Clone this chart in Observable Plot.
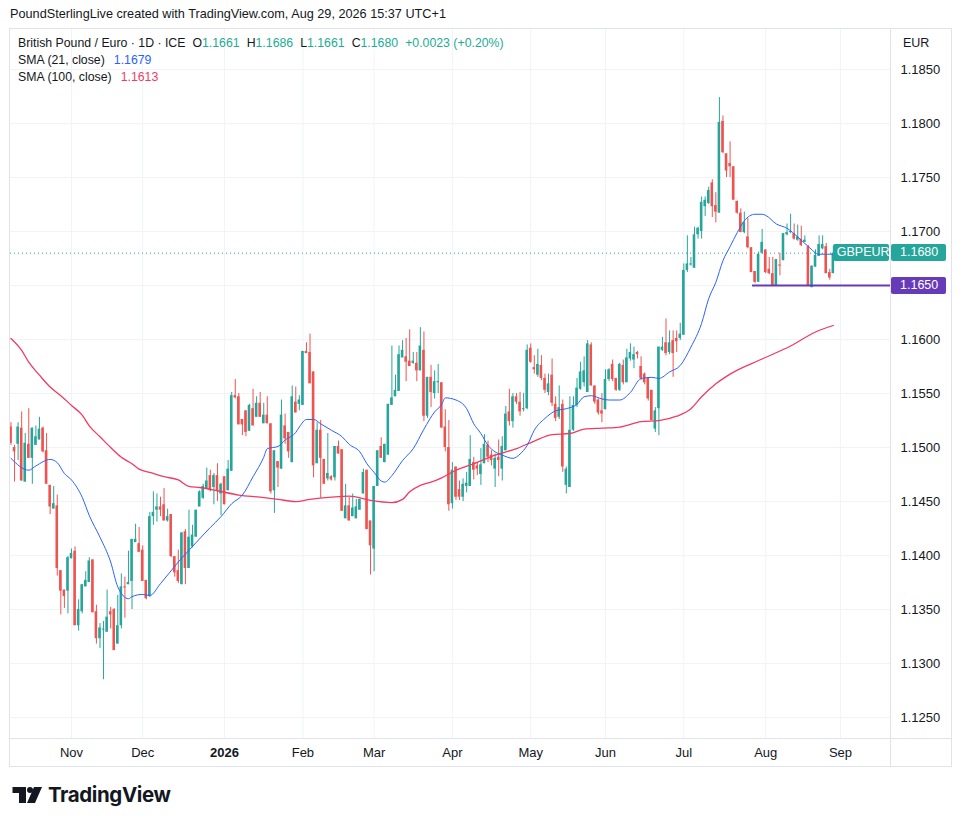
<!DOCTYPE html>
<html><head><meta charset="utf-8">
<script src="https://cdn.jsdelivr.net/npm/d3@7"></script>
<script src="https://cdn.jsdelivr.net/npm/@observablehq/plot@0.6"></script>
<style>
body{margin:0;background:#fff;font-family:"Liberation Sans",Arial,sans-serif;color:#131722;}
#wrap{position:relative;width:960px;height:826px;overflow:hidden;}
.abs{position:absolute;}
#hdr{left:10px;top:7px;font-size:12.7px;white-space:nowrap;}
#chart{left:0;top:28px;}
#legend{left:18px;top:35px;font-size:12.3px;line-height:17px;white-space:nowrap;}
#legend .v{color:#22ab94;}
#legend .g{margin-left:7px;}
.box{position:absolute;height:17px;line-height:17px;font-size:12.5px;color:#fff;border-radius:2px;white-space:nowrap;}
#logo{left:12px;top:780px;}
</style></head><body>
<div id="wrap">
  <div id="hdr" class="abs">PoundSterlingLive created with TradingView.com, Aug 29, 2026 15:37 UTC+1</div>
  <div id="chart" class="abs"></div>
  <div id="legend" class="abs">
    <div>British Pound / Euro · 1D · ICE<span class="g">O</span><span class="v">1.1661</span><span class="g">H</span><span class="v">1.1686</span><span class="g">L</span><span class="v">1.1661</span><span class="g">C</span><span class="v">1.1680</span><span class="v g">+0.0023 (+0.20%)</span></div>
    <div>SMA (21, close)<span style="color:#2962ff;margin-left:9px">1.1679</span></div>
    <div>SMA (100, close)<span style="color:#f23a62;margin-left:9px">1.1613</span></div>
  </div>
  <div class="abs" style="left:903px;top:36px;font-size:12.5px;">EUR</div>
  <div class="abs" style="left:9px;top:28px;width:941px;height:737px;border:1px solid #e0e3eb;pointer-events:none;"></div>
  <div class="abs" style="left:890px;top:28px;width:1px;height:738px;background:#e0e3eb;"></div>
  <div class="abs" style="left:9px;top:738px;width:942px;height:1px;background:#e0e3eb;"></div>
  <div id="logo" class="abs">
    <svg width="200" height="34" viewBox="0 0 200 34">
      <path d="M0.5 7 H14 V23 H7 V13 H0.5 Z" fill="#131722"/>
      <circle cx="18" cy="10" r="3" fill="#131722"/>
      <path d="M22 7 H30 L23 23 H15 Z" fill="#131722"/>
      <text x="36" y="22" font-family="Inter, 'Liberation Sans', Arial, sans-serif" font-weight="700" font-size="20.5" letter-spacing="-0.4" fill="#131722">TradingView</text>
    </svg>
  </div>
</div>
<script>
// ---- Data (GBP/EUR daily candles) ----
const opens = [1.1519,1.1500,1.1503,1.1518,1.1468,1.1503,1.1490,1.1502,1.1507,1.1518,
1.1497,1.1465,1.1443,1.1446,1.1386,1.1368,1.1367,1.1397,1.1404,1.1335,
1.1348,1.1371,1.1375,1.1396,1.1348,1.1323,1.1331,1.1329,1.1348,1.1350,
1.1318,1.1335,1.1371,1.1373,1.1376,1.1412,1.1411,1.1405,1.1377,1.1362,
1.1436,1.1442,1.1445,1.1447,1.1432,1.1438,1.1399,1.1386,1.1373,1.1422,
1.1388,1.1408,1.1417,1.1445,1.1453,1.1462,1.1474,1.1463,1.1474,1.1457,
1.1473,1.1460,1.1478,1.1548,1.1547,1.1526,1.1534,1.1515,1.1536,1.1528,
1.1541,1.1522,1.1530,1.1522,1.1460,1.1487,1.1480,1.1520,1.1514,1.1486,
1.1542,1.1540,1.1539,1.1589,1.1588,1.1570,1.1485,1.1516,1.1489,1.1471,
1.1473,1.1472,1.1501,1.1498,1.1434,1.1446,1.1436,1.1434,1.1442,1.1457,
1.1479,1.1432,1.1406,1.1464,1.1501,1.1486,1.1493,1.1539,1.1547,1.1552,
1.1583,1.1584,1.1580,1.1578,1.1578,1.1571,1.1590,1.1529,1.1565,1.1550,
1.1560,1.1560,1.1519,1.1500,1.1448,1.1482,1.1461,1.1454,1.1464,1.1464,
1.1486,1.1483,1.1475,1.1485,1.1502,1.1493,1.1480,1.1491,1.1480,1.1497,
1.1533,1.1524,1.1547,1.1542,1.1535,1.1536,1.1592,1.1574,1.1567,1.1576,
1.1564,1.1551,1.1567,1.1540,1.1528,1.1540,1.1465,1.1463,1.1516,1.1539,
1.1554,1.1560,1.1551,1.1595,1.1557,1.1544,1.1534,1.1535,1.1563,1.1577,
1.1564,1.1553,1.1576,1.1560,1.1582,1.1581,1.1588,1.1575,1.1568,1.1564,
1.1553,1.1517,1.1536,1.1590,1.1597,1.1588,1.1599,1.1601,1.1601,1.1604,
1.1664,1.1669,1.1666,1.1697,1.1700,1.1723,1.1726,1.1745,1.1724,1.1717,
1.1802,1.1772,1.1763,1.1760,1.1728,1.1717,1.1699,1.1695,1.1685,1.1663,
1.1653,1.1680,1.1683,1.1665,1.1661,1.1650,1.1669,1.1673,1.1697,1.1699,
1.1698,1.1692,1.1693,1.1690,1.1686,1.1648,1.1667,1.1677,1.1684,1.1686,
1.1662,1.1661];
const highs = [1.1523,1.1502,1.1523,1.1533,1.1513,1.1536,1.1518,1.1520,1.1528,1.1519,
1.1513,1.1465,1.1464,1.1456,1.1386,1.1368,1.1399,1.1406,1.1408,1.1359,
1.1373,1.1385,1.1398,1.1396,1.1354,1.1337,1.1339,1.1368,1.1352,1.1351,
1.1363,1.1383,1.1380,1.1404,1.1415,1.1429,1.1426,1.1409,1.1377,1.1440,
1.1459,1.1457,1.1454,1.1462,1.1443,1.1438,1.1399,1.1405,1.1421,1.1424,
1.1442,1.1428,1.1442,1.1460,1.1466,1.1481,1.1479,1.1476,1.1485,1.1467,
1.1473,1.1488,1.1551,1.1563,1.1550,1.1526,1.1534,1.1540,1.1554,1.1547,
1.1551,1.1541,1.1547,1.1522,1.1497,1.1487,1.1544,1.1531,1.1514,1.1557,
1.1556,1.1548,1.1589,1.1597,1.1605,1.1570,1.1523,1.1525,1.1489,1.1513,
1.1474,1.1501,1.1506,1.1498,1.1466,1.1454,1.1457,1.1452,1.1452,1.1480,
1.1479,1.1432,1.1464,1.1497,1.1509,1.1503,1.1540,1.1594,1.1567,1.1594,
1.1599,1.1601,1.1609,1.1588,1.1588,1.1611,1.1607,1.1565,1.1576,1.1571,
1.1577,1.1560,1.1535,1.1525,1.1486,1.1482,1.1469,1.1471,1.1477,1.1511,
1.1491,1.1486,1.1499,1.1512,1.1506,1.1497,1.1494,1.1507,1.1510,1.1538,
1.1554,1.1550,1.1550,1.1551,1.1550,1.1595,1.1596,1.1585,1.1591,1.1585,
1.1568,1.1568,1.1582,1.1547,1.1557,1.1544,1.1482,1.1547,1.1547,1.1564,
1.1579,1.1584,1.1599,1.1597,1.1557,1.1545,1.1550,1.1572,1.1573,1.1581,
1.1564,1.1578,1.1581,1.1591,1.1596,1.1593,1.1589,1.1584,1.1569,1.1564,
1.1553,1.1537,1.1593,1.1602,1.1619,1.1608,1.1608,1.1608,1.1615,1.1670,
1.1696,1.1676,1.1704,1.1704,1.1732,1.1732,1.1741,1.1748,1.1736,1.1824,
1.1807,1.1772,1.1783,1.1760,1.1728,1.1721,1.1718,1.1712,1.1685,1.1663,
1.1681,1.1702,1.1683,1.1676,1.1676,1.1674,1.1680,1.1698,1.1707,1.1716,
1.1707,1.1706,1.1705,1.1696,1.1687,1.1668,1.1683,1.1696,1.1696,1.1689,
1.1665,1.1686];
const lows = [1.1502,1.1468,1.1488,1.1469,1.1468,1.1490,1.1466,1.1502,1.1507,1.1495,
1.1466,1.1438,1.1443,1.1381,1.1345,1.1351,1.1346,1.1397,1.1335,1.1330,
1.1346,1.1371,1.1375,1.1347,1.1318,1.1314,1.1285,1.1329,1.1332,1.1312,
1.1318,1.1332,1.1342,1.1373,1.1350,1.1412,1.1403,1.1376,1.1359,1.1361,
1.1428,1.1431,1.1436,1.1432,1.1431,1.1398,1.1380,1.1374,1.1373,1.1373,
1.1388,1.1407,1.1417,1.1445,1.1452,1.1461,1.1459,1.1447,1.1450,1.1437,
1.1447,1.1460,1.1478,1.1545,1.1521,1.1511,1.1510,1.1515,1.1520,1.1528,
1.1528,1.1522,1.1522,1.1457,1.1439,1.1463,1.1480,1.1503,1.1490,1.1486,
1.1532,1.1534,1.1539,1.1587,1.1559,1.1472,1.1485,1.1453,1.1466,1.1469,
1.1469,1.1469,1.1494,1.1441,1.1434,1.1432,1.1436,1.1434,1.1442,1.1457,
1.1424,1.1382,1.1385,1.1464,1.1490,1.1486,1.1493,1.1539,1.1547,1.1552,
1.1583,1.1561,1.1575,1.1577,1.1561,1.1571,1.1524,1.1527,1.1537,1.1545,
1.1550,1.1518,1.1496,1.1441,1.1443,1.1451,1.1451,1.1450,1.1458,1.1464,
1.1470,1.1474,1.1465,1.1485,1.1486,1.1483,1.1463,1.1473,1.1469,1.1497,
1.1520,1.1518,1.1540,1.1529,1.1533,1.1535,1.1578,1.1568,1.1565,1.1562,
1.1550,1.1548,1.1538,1.1524,1.1526,1.1477,1.1457,1.1463,1.1515,1.1537,
1.1553,1.1556,1.1551,1.1557,1.1540,1.1530,1.1523,1.1535,1.1561,1.1561,
1.1552,1.1552,1.1558,1.1560,1.1580,1.1573,1.1582,1.1562,1.1558,1.1543,
1.1525,1.1514,1.1511,1.1589,1.1585,1.1586,1.1565,1.1588,1.1599,1.1604,
1.1662,1.1668,1.1666,1.1693,1.1693,1.1714,1.1725,1.1713,1.1708,1.1717,
1.1772,1.1750,1.1750,1.1729,1.1716,1.1699,1.1698,1.1684,1.1662,1.1652,
1.1653,1.1679,1.1661,1.1660,1.1650,1.1650,1.1659,1.1673,1.1696,1.1698,
1.1692,1.1691,1.1686,1.1690,1.1650,1.1648,1.1667,1.1677,1.1683,1.1661,
1.1655,1.1661];
const closes = [1.1504,1.1496,1.1519,1.1469,1.1504,1.1490,1.1518,1.1510,1.1517,1.1496,
1.1466,1.1445,1.1448,1.1388,1.1367,1.1362,1.1398,1.1402,1.1335,1.1350,
1.1373,1.1377,1.1395,1.1347,1.1323,1.1333,1.1332,1.1343,1.1345,1.1312,
1.1335,1.1371,1.1370,1.1375,1.1415,1.1415,1.1403,1.1376,1.1360,1.1436,
1.1440,1.1445,1.1442,1.1432,1.1436,1.1399,1.1384,1.1376,1.1421,1.1388,
1.1417,1.1419,1.1442,1.1459,1.1464,1.1469,1.1460,1.1474,1.1460,1.1466,
1.1447,1.1480,1.1548,1.1546,1.1521,1.1521,1.1514,1.1539,1.1520,1.1541,
1.1528,1.1530,1.1522,1.1459,1.1497,1.1481,1.1530,1.1508,1.1496,1.1547,
1.1532,1.1544,1.1589,1.1587,1.1559,1.1483,1.1516,1.1490,1.1466,1.1476,
1.1470,1.1501,1.1494,1.1441,1.1446,1.1432,1.1444,1.1445,1.1452,1.1477,
1.1424,1.1409,1.1464,1.1497,1.1490,1.1503,1.1540,1.1546,1.1553,1.1586,
1.1590,1.1579,1.1575,1.1580,1.1571,1.1594,1.1529,1.1565,1.1551,1.1561,
1.1561,1.1518,1.1500,1.1447,1.1479,1.1454,1.1454,1.1466,1.1467,1.1489,
1.1479,1.1480,1.1484,1.1503,1.1491,1.1488,1.1490,1.1488,1.1501,1.1531,
1.1524,1.1547,1.1542,1.1533,1.1536,1.1590,1.1579,1.1572,1.1577,1.1564,
1.1553,1.1559,1.1541,1.1527,1.1537,1.1482,1.1480,1.1516,1.1539,1.1555,
1.1570,1.1571,1.1596,1.1557,1.1542,1.1532,1.1531,1.1563,1.1572,1.1563,
1.1553,1.1577,1.1560,1.1583,1.1588,1.1586,1.1586,1.1564,1.1560,1.1545,
1.1525,1.1534,1.1593,1.1593,1.1587,1.1597,1.1587,1.1598,1.1605,1.1664,
1.1670,1.1670,1.1697,1.1703,1.1727,1.1729,1.1738,1.1723,1.1718,1.1801,
1.1773,1.1756,1.1760,1.1729,1.1717,1.1699,1.1708,1.1685,1.1662,1.1653,
1.1679,1.1690,1.1662,1.1661,1.1650,1.1674,1.1668,1.1698,1.1699,1.1700,
1.1693,1.1695,1.1687,1.1692,1.1650,1.1668,1.1678,1.1688,1.1688,1.1661,
1.1657,1.1680];

// SMA(21) and SMA(100) values, at bar indices
const sma21Idx = [0,5,7,11,13,15,17,20,22,25,28,30,33,34,37,39,42,47,52,56,59,62,65,68,71,72,75,77,80,81,83,85,87,90,93,95,98,100,102,104,105,107,110,113,116,119,121,122,125,128,130,132,134,136,138,141,143,145,147,150,153,156,159,161,163,166,168,171,174,177,180,182,185,188,191,194,196,198,200,202,204,206,209,211,212,215,218,221,224,227,229,231];
const sma21Val = [1.1490,1.1479,1.1483,1.1489,1.1486,1.1476,1.1470,1.1454,1.1437,1.1417,1.1394,1.1371,1.1360,1.1362,1.1364,1.1363,1.1374,1.1394,1.1412,1.1426,1.1436,1.1448,1.1456,1.1473,1.1491,1.1499,1.1501,1.1507,1.1514,1.1519,1.1526,1.1526,1.1522,1.1516,1.1510,1.1503,1.1496,1.1485,1.1477,1.1469,1.1468,1.1474,1.1488,1.1499,1.1517,1.1533,1.1540,1.1546,1.1544,1.1536,1.1522,1.1513,1.1502,1.1496,1.1493,1.1490,1.1494,1.1502,1.1516,1.1527,1.1534,1.1536,1.1540,1.1547,1.1548,1.1545,1.1544,1.1544,1.1551,1.1564,1.1565,1.1564,1.1570,1.1576,1.1593,1.1615,1.1638,1.1653,1.1673,1.1686,1.1699,1.1710,1.1716,1.1716,1.1715,1.1707,1.1703,1.1695,1.1686,1.1679,1.1679,1.1679];
const sma100Idx = [0,3,5,8,11,14,17,20,22,25,28,31,34,36,39,43,47,50,53,58,64,70,75,80,84,90,95,101,107,110,112,115,118,121,125,130,136,142,147,152,157,161,166,171,177,182,187,191,194,198,202,211,219,226,231];
const sma100Val = [1.1601,1.1590,1.1579,1.1567,1.1556,1.1548,1.1539,1.1530,1.1520,1.1510,1.1500,1.1491,1.1485,1.1480,1.1477,1.1473,1.1470,1.1464,1.1463,1.1460,1.1456,1.1454,1.1452,1.1450,1.1452,1.1454,1.1455,1.1451,1.1449,1.1452,1.1459,1.1465,1.1468,1.1472,1.1479,1.1485,1.1493,1.1499,1.1506,1.1512,1.1513,1.1517,1.1518,1.1519,1.1524,1.1525,1.1529,1.1536,1.1547,1.1559,1.1568,1.1582,1.1594,1.1607,1.1613];

// Axis ticks
const monthIdx = [17,37,60,82,102,124,146,167,189,212,233];
const monthLabels = ["Nov","Dec","2026","Feb","Mar","Apr","May","Jun","Jul","Aug","Sep"];
const yTicks = [1.125,1.13,1.135,1.14,1.145,1.15,1.155,1.16,1.165,1.17,1.175,1.18,1.185];

// Price lines
const lastClose = 1.1680;
const supportLevel = 1.1650;
const supportFrom = 208.3;

// ---- Build ----
const UP = "#26a69a", DN = "#ef5350";
const bars = opens.map((o, i) => {
  const c = closes[i];
  let top = Math.max(o, c), bot = Math.min(o, c);
  if (top - bot < 0.0001) { const m = (top + bot) / 2; top = m + 0.00005; bot = m - 0.00005; }
  return {i, o, h: highs[i], l: lows[i], c, top, bot, up: c >= o};
});
const upBars = bars.filter(d => d.up), dnBars = bars.filter(d => !d.up);
const sma21 = sma21Idx.map((x, k) => ({x, y: sma21Val[k]}));
const sma100 = sma100Idx.map((x, k) => ({x, y: sma100Val[k]}));
const ticks = monthIdx.map((x, k) => ({x, label: monthLabels[k], bold: monthLabels[k] === "2026"}));
const xDomain = [-0.135, 247.06];
const yDomain = [1.12306, 1.18880];
const HW = 0.36;
// the 1.1650 tick label sits under the purple price box
const yLabelTicks = yTicks.filter(t => Math.abs(t - supportLevel) > 1e-9);

const chart = Plot.plot({
  width: 960, height: 738,
  marginLeft: 10, marginRight: 70, marginTop: 0, marginBottom: 28,
  x: {domain: xDomain, axis: null},
  y: {domain: yDomain, axis: null},
  style: {fontFamily: "'Liberation Sans', Arial, sans-serif", fontSize: "13px", color: "#131722", background: "transparent", overflow: "visible"},
  marks: [
    Plot.gridY(yTicks, {stroke: "#f0f3fa", strokeOpacity: 1}),
    Plot.gridX(monthIdx, {stroke: "#f0f3fa", strokeOpacity: 1}),
    Plot.axisY(yLabelTicks, {anchor: "right", tickSize: 0, tickPadding: 10, tickFormat: d3.format(".4f"), fontSize: 13, fill: "#131722"}),
    Plot.text(ticks.filter(d => !d.bold), {x: "x", text: "label", frameAnchor: "bottom", lineAnchor: "middle", dy: 14, fontSize: 13, fill: "#131722"}),
    Plot.text(ticks.filter(d => d.bold), {x: "x", text: "label", frameAnchor: "bottom", lineAnchor: "middle", dy: 14, fontSize: 13, fontWeight: "bold", fill: "#131722"}),
    Plot.ruleY([lastClose], {stroke: UP, strokeWidth: 1, strokeDasharray: "1,3"}),
    Plot.ruleX(upBars, {x: "i", y1: "l", y2: "h", stroke: UP, strokeWidth: 1}),
    Plot.ruleX(dnBars, {x: "i", y1: "l", y2: "h", stroke: DN, strokeWidth: 1}),
    Plot.rect(upBars, {x1: d => d.i - HW, x2: d => d.i + HW, y1: "bot", y2: "top", fill: UP}),
    Plot.rect(dnBars, {x1: d => d.i - HW, x2: d => d.i + HW, y1: "bot", y2: "top", fill: DN}),
    Plot.line(sma100, {x: "x", y: "y", stroke: "#f23a62", strokeWidth: 1.3, curve: "monotone-x"}),
    Plot.line(sma21, {x: "x", y: "y", stroke: "#2962ff", strokeWidth: 1, curve: "monotone-x"}),
    Plot.ruleY([{y: supportLevel, x1: supportFrom, x2: xDomain[1]}], {y: "y", x1: "x1", x2: "x2", stroke: "#673ab7", strokeWidth: 2})
  ]
});
document.getElementById("chart").appendChild(chart);

// Price labels placed with the chart's own scales
const wrap = document.getElementById("wrap");
const ys = chart.scale("y"), xs = chart.scale("x");
function addBox(text, left, width, yVal, bg, pad) {
  const el = document.createElement("div");
  el.className = "box";
  el.textContent = text;
  el.style.left = left + "px";
  el.style.width = (width - pad) + "px";
  el.style.paddingLeft = pad + "px";
  el.style.top = (28 + ys.apply(yVal) - 8.5) + "px";
  el.style.background = bg;
  wrap.appendChild(el);
}
const lastX = xs.apply(opens.length - 1);
addBox("GBPEUR", lastX, 889 - lastX, lastClose, UP, 4);
addBox(lastClose.toFixed(4), 891, 55, lastClose, UP, 9);
addBox(supportLevel.toFixed(4), 891, 55, supportLevel, "#673ab7", 9);
</script>
</body></html>
